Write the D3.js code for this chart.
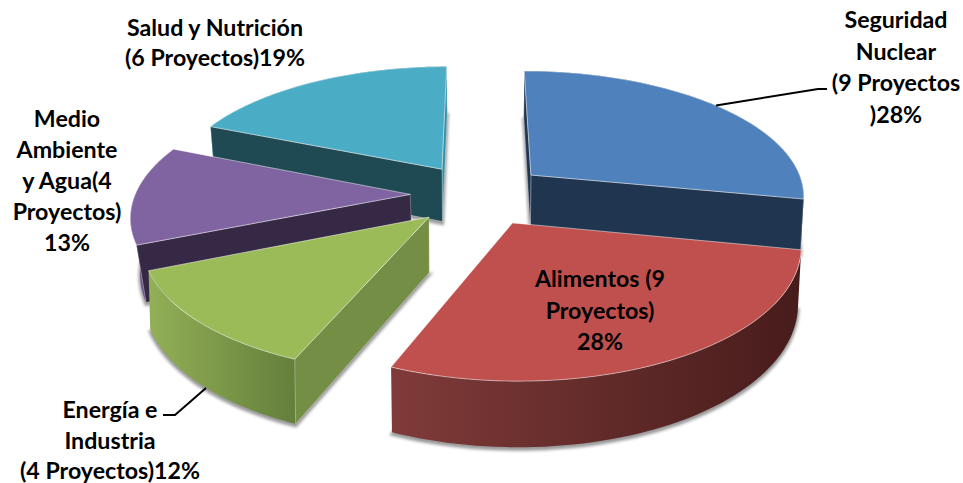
<!DOCTYPE html>
<html>
<head>
<meta charset="utf-8">
<script src="https://cdnjs.cloudflare.com/ajax/libs/d3/7.8.5/d3.min.js"></script>
<style>html,body{margin:0;padding:0;background:#fff}svg{display:block}</style>
</head>
<body>
<svg id="chart" width="963" height="483"></svg>
<script>
const categories = ["Seguridad Nuclear","Alimentos","Energía e Industria","Medio Ambiente y Agua","Salud y Nutrición"];
const projects = [9, 9, 4, 4, 6];
const percents = [28, 28, 12, 13, 19];
const labelLines = [
  ["Seguridad","Nuclear","(9 Proyectos",")28%"],
  ["Alimentos (9","Proyectos)","28%"],
  ["Energía e","Industria","(4 Proyectos)12%"],
  ["Medio","Ambiente","y Agua(4","Proyectos)","13%"],
  ["Salud y Nutrición","(6 Proyectos)19%"]
];
const topColors  = ["#4F81BD","#C0504D","#9BBB59","#8064A2","#4BACC6"];
const startFaceColors = ["#1F3550",null,"#748F45","#352945","#1F4A53"];
const endFaceColors   = ["#1F3550",null,null,null,"#2F8FA8"];
const wallStops  = [["#2a4565","#1F3550"],["#7F3B39","#471C1B"],["#93B057","#647F3B"],["#7a5f9c","#4a3a63"],["#2F8FA8","#1F4A53"]];
const labelLayout = [[896,20],[600,279],[110,410],[67,119],[215,28]];
const lineHeights = [31.5,31.5,30.5,31,30];
const leaders = [[[716,105.5],[818,89],[827,89]],[[206,388],[175,415],[163,415]]];
const bottomShrink = [0.99,0.99,0.995,0.972,0.985];

// projection of the exploded pie plane on the screen
const xc = 479, yc = 194.4, A = 275, B = 125, k = 0.15, explode = 0.25, H = 54;
const project = (X, Y, z, shrink) => {
  const s = 1 / (1 - k * Y);
  const x = xc + A * X * s * (z ? shrink : 1);
  const y = yc + B * Y * s + (z ? H * s : 0);
  return [x, y];
};
const pie = d3.pie().sort(null).startAngle(0).endAngle(2 * Math.PI);
const arcs = pie(projects);
const line = d3.line();
const svg = d3.select("#chart");
const defs = svg.append("defs");
defs.append("filter").attr("id","blur").attr("x","-20%").attr("y","-20%").attr("width","140%").attr("height","140%")
  .append("feGaussianBlur").attr("stdDeviation",1.8);

const geom = arcs.map((d, i) => {
  const mid = (d.startAngle + d.endAngle) / 2;
  const ox = explode * Math.sin(mid), oy = -explode * Math.cos(mid);
  const angles = d3.range(0, 61).map(j => d.startAngle + (d.endAngle - d.startAngle) * j / 60);
  const rim = z => angles.map(a => project(ox + Math.sin(a), oy - Math.cos(a), z, bottomShrink[i]));
  const apex = z => project(ox, oy, z, bottomShrink[i]);
  return {rimT: rim(0), rimB: rim(1), apexT: apex(0), apexB: apex(1)};
});

geom.forEach((g, i) => {
  const xs = g.rimT.map(p => p[0]);
  defs.append("linearGradient").attr("id","wall"+i).attr("gradientUnits","userSpaceOnUse")
    .attr("x1",d3.min(xs)).attr("x2",d3.max(xs)).attr("y1",0).attr("y2",0)
    .selectAll("stop").data(wallStops[i]).join("stop")
    .attr("offset",(c,j)=>j).attr("stop-color",c=>c);
});

// painter's order: far slices first
const order = [4, 0, 3, 2, 1];
const edge = "rgba(255,255,255,0.55)";
order.forEach(i => {
  const g = geom[i];
  const gr = svg.append("g").attr("class","slice").attr("data-category",categories[i]);
  gr.append("path")
    .attr("d", line([g.apexB, ...g.rimB]) + "Z")
    .attr("transform","translate(0,2)")
    .attr("fill","#808080").attr("stroke","#808080").attr("stroke-width",3)
    .attr("opacity",0.8).attr("filter","url(#blur)");
  gr.append("path")
    .attr("d", line([...g.rimT, ...g.rimB.slice().reverse()]) + "Z")
    .attr("fill",`url(#wall${i})`);
  if (endFaceColors[i]) gr.append("path")
    .attr("d", line([g.rimT[60], g.apexT, g.apexB, g.rimB[60]]) + "Z")
    .attr("fill",endFaceColors[i]).attr("stroke",edge).attr("stroke-width",0.5);
  if (startFaceColors[i]) gr.append("path")
    .attr("d", line([g.rimT[0], g.apexT, g.apexB, g.rimB[0]]) + "Z")
    .attr("fill",startFaceColors[i]).attr("stroke",edge).attr("stroke-width",0.5);
  gr.append("path")
    .attr("d", line([g.apexT, ...g.rimT]) + "Z")
    .attr("fill",topColors[i]).attr("stroke",edge).attr("stroke-width",0.9);
});

svg.append("g").selectAll("path").data(leaders).join("path")
  .attr("d", d => line(d)).attr("fill","none").attr("stroke","#000").attr("stroke-width",2);

const lab = svg.append("g").attr("font-family","Lato, 'Open Sans', sans-serif").attr("font-weight",700)
  .attr("font-size",23.2).attr("fill","#000").attr("text-anchor","middle");
labelLines.forEach((lines, i) => {
  lab.selectAll(null).data(lines).join("text")
    .attr("x",labelLayout[i][0])
    .attr("y",(t,j)=>labelLayout[i][1] + j*lineHeights[i])
    .attr("dy","0.35em").text(t=>t);
});
</script>
</body>
</html>
